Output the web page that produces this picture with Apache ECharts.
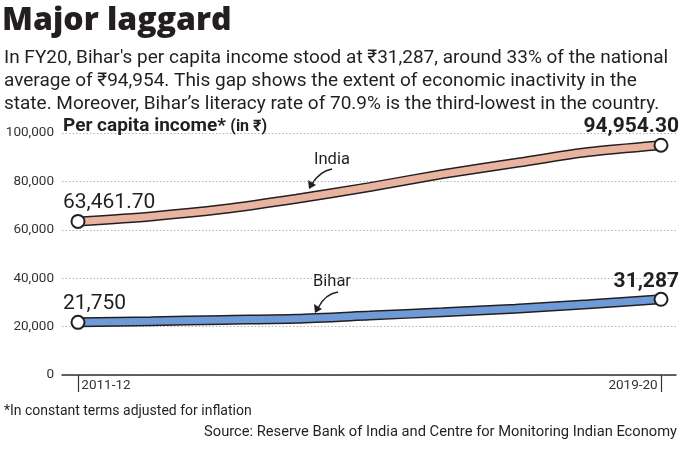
<!DOCTYPE html>
<html>
<head>
<meta charset="utf-8">
<script src="https://cdn.jsdelivr.net/npm/echarts@6/dist/echarts.min.js"></script>
<style>html,body{margin:0;padding:0;background:#fff;}#c{width:680px;height:453px;}</style>
</head>
<body>
<div id="c"></div>
<script>
var years = ['2011-12','2012-13','2013-14','2014-15','2015-16','2016-17','2017-18','2018-19','2019-20'];
var india = [63461.70, 65538, 68572, 72805, 77659, 83003, 87586, 92133, 94954.30];
var bihar = [21750, 22201, 22776, 23223, 24572, 25950, 27400, 29200, 31287];
var indiaEndLabels = ['63,461.70', '94,954.30'];
var biharEndLabels = ['21,750', '31,287'];
var yTicks = [0, 20000, 40000, 60000, 80000, 100000];

var FONT = 'Roboto';
var DARK = '#231f20';
var chart = echarts.init(document.getElementById('c'), null, {renderer: 'canvas'});

function endPoints(arr, labels) {
  var n = arr.length - 1;
  return {
    type: 'scatter', xAxisIndex: 1, yAxisIndex: 1, z: 10,
    symbol: 'circle', symbolSize: 13,
    itemStyle: {color: '#fff', borderColor: DARK, borderWidth: 2, opacity: 1},
    data: [
      {value: [0, arr[0]], label: {show: true, formatter: labels[0], position: 'top', align: 'left', offset: [-15, 4], fontFamily: FONT, fontSize: 21, color: DARK}},
      {value: [n, arr[n]], label: {show: true, formatter: labels[1], position: 'top', align: 'right', offset: [18, 5], fontFamily: FONT, fontWeight: 'bold', fontSize: 21, color: DARK}}
    ]
  };
}

var option = {
  animation: false,
  textStyle: {fontFamily: FONT},
  title: [
    {text: 'Major laggard', left: 2, top: 5, padding: 0, textStyle: {fontFamily: 'Open Sans', fontWeight: 800, fontSize: 32, color: DARK}},
    {text: "In FY20, Bihar's per capita income stood at ₹31,287, around 33% of the national\naverage of ₹94,954. This gap shows the extent of economic inactivity in the\nstate. Moreover, Bihar’s literacy rate of 70.9% is the third-lowest in the country.",
     left: 4, top: 47, padding: 0, textStyle: {fontFamily: FONT, fontWeight: 'normal', fontSize: 19, lineHeight: 23, color: DARK}},
    {text: '{b|Per capita income*} {r|(in ₹)}', left: 63, top: 117, padding: 0,
     textStyle: {rich: {b: {fontFamily: FONT, fontWeight: 'bold', fontSize: 19, color: DARK}, r: {fontFamily: FONT, fontSize: 16, color: DARK}}}},
    {text: '*In constant terms adjusted for inflation', left: 4, top: 404, padding: 0, textStyle: {fontFamily: FONT, fontWeight: 'normal', fontSize: 14, color: DARK}},
    {text: 'Source: Reserve Bank of India and Centre for Monitoring Indian Economy', right: 3, top: 425, padding: 0, textStyle: {fontFamily: FONT, fontWeight: 'normal', fontSize: 14.7, color: DARK}}
  ],
  grid: [
    {left: 62, right: 4, top: 133, bottom: 78},
    {left: 78, right: 19, top: 133, bottom: 78}
  ],
  xAxis: [
    {type: 'value', gridIndex: 0, min: 0, max: 1, axisLabel: {show: false}, axisTick: {show: false}, splitLine: {show: false},
     axisLine: {show: true, onZero: false, lineStyle: {color: '#333', width: 1.5}}},
    {type: 'category', gridIndex: 1, data: years, boundaryGap: false,
     axisLine: {show: false},
     axisTick: {show: true, length: 17, interval: function (i) { return i === 0 || i === years.length - 1; }, lineStyle: {color: '#333', width: 1.2}},
     axisLabel: {show: true, interval: function (i) { return i === 0 || i === years.length - 1; }, alignMinLabel: 'left', alignMaxLabel: 'right',
       margin: 4, fontFamily: FONT, fontSize: 13.5, color: '#333',
       formatter: function (v, i) { return i === 0 ? ' ' + v : v + ' '; }},
     splitLine: {show: false}}
  ],
  yAxis: [
    {type: 'value', gridIndex: 0, min: 0, max: 100000, interval: 20000,
     axisLine: {show: false}, axisTick: {show: false},
     axisLabel: {margin: 8, fontFamily: FONT, fontSize: 13.5, color: '#333', formatter: function (v) { return yTicks.indexOf(v) >= 0 ? v.toLocaleString('en-US') : ''; }},
     splitLine: {show: true, lineStyle: {color: '#b5b5b5', type: [1.5, 2], width: 1}}},
    {type: 'value', gridIndex: 1, min: 0, max: 100000, show: false, splitLine: {show: false}}
  ],
  series: [
    {type: 'line', name: 'India outline', xAxisIndex: 1, yAxisIndex: 1, data: india, smooth: 0.25, symbol: 'none', lineStyle: {color: DARK, width: 10}, z: 3},
    {type: 'line', name: 'India', xAxisIndex: 1, yAxisIndex: 1, data: india, smooth: 0.25, symbol: 'none', lineStyle: {color: '#e8b4a0', width: 7}, z: 4},
    {type: 'line', name: 'Bihar outline', xAxisIndex: 1, yAxisIndex: 1, data: bihar, smooth: 0.25, symbol: 'none', lineStyle: {color: DARK, width: 10}, z: 3},
    {type: 'line', name: 'Bihar', xAxisIndex: 1, yAxisIndex: 1, data: bihar, smooth: 0.25, symbol: 'none', lineStyle: {color: '#6f9ad8', width: 7}, z: 4},
    endPoints(india, indiaEndLabels),
    endPoints(bihar, biharEndLabels)
  ],
  graphic: [
    {type: 'text', left: 314, top: 151, style: {text: 'India', fontFamily: FONT, fontSize: 16.5, fill: DARK}},
    {type: 'text', left: 313, top: 273, style: {text: 'Bihar', fontFamily: FONT, fontSize: 16.5, fill: DARK}},
    {type: 'bezierCurve', shape: {x1: 332, y1: 169, cpx1: 320, cpy1: 171, x2: 312, y2: 184}, style: {stroke: DARK, lineWidth: 1.5, fill: null}},
    {type: 'polygon', shape: {points: [[309, 189], [308, 180], [316, 185]]}, style: {fill: DARK}},
    {type: 'bezierCurve', shape: {x1: 338, y1: 292, cpx1: 325, cpy1: 294, x2: 318, y2: 308}, style: {stroke: DARK, lineWidth: 1.5, fill: null}},
    {type: 'polygon', shape: {points: [[315, 313], [314, 304], [322, 309]]}, style: {fill: DARK}}
  ]
};
chart.setOption(option);
</script>
</body>
</html>
